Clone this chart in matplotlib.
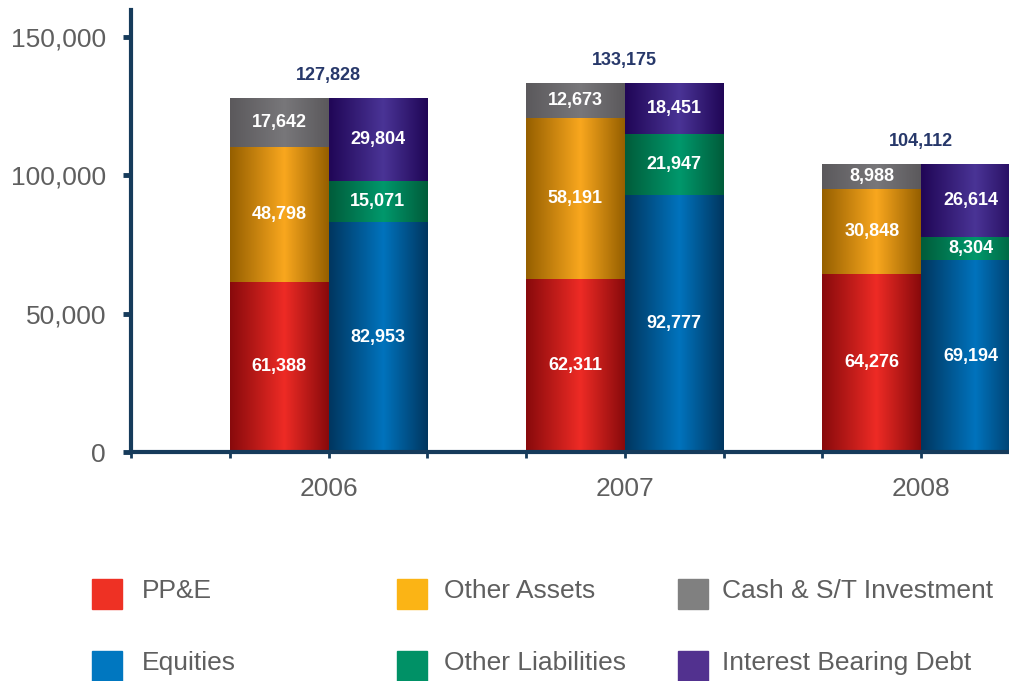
import numpy as np
import matplotlib
matplotlib.use("Agg")
import matplotlib.pyplot as plt
from matplotlib.colors import LinearSegmentedColormap
from matplotlib.patches import Rectangle

plt.rcParams["font.family"] = ["Liberation Sans", "DejaVu Sans"]

# Balance sheet composition (in millions)
years = ["2006", "2007", "2008"]
ppe = [61388, 62311, 64276]
other_assets = [48798, 58191, 30848]
cash = [17642, 12673, 8988]
equities = [82953, 92777, 69194]
other_liab = [15071, 21947, 8304]
debt = [29804, 18451, 26614]

asset_series = [("PP&E", ppe), ("Other Assets", other_assets), ("Cash & S/T Investment", cash)]
liab_series = [("Equities", equities), ("Other Liabilities", other_liab), ("Interest Bearing Debt", debt)]

# edge shade, highlight, legend swatch
shades = {
    "PP&E": ("#880a0c", "#ee2b25", "#ee3124"),
    "Other Assets": ("#955f00", "#f9a71e", "#fbb415"),
    "Cash & S/T Investment": ("#5b595c", "#78777a", "#808080"),
    "Equities": ("#00365f", "#0073bd", "#0077c0"),
    "Other Liabilities": ("#005c3a", "#00986c", "#009166"),
    "Interest Bearing Debt": ("#200656", "#4a3496", "#52318f"),
}

spine_col = "#163b5b"
text_col = "#5f5f5f"
total_col = "#27386a"

fig = plt.figure(figsize=(10.09, 6.81), dpi=100)
ax = fig.add_axes([131 / 1009, 229 / 681, 878 / 1009, 442 / 681])

group_x = np.array([2, 5, 8])
grad = np.linspace(0, 1, 256).reshape(1, -1)


def shaded_stack(xc, series):
    bottom = np.zeros(len(xc))
    for name, vals in series:
        dark, light, _ = shades[name]
        cmap = LinearSegmentedColormap.from_list(name, [(0, dark), (0.55, light), (1, dark)])
        bars = ax.bar(xc, vals, width=1.0, bottom=bottom, color="none", edgecolor="none", zorder=2)
        for rect, v in zip(bars, vals):
            x0, y0 = rect.get_xy()
            w, h = rect.get_width(), rect.get_height()
            im = ax.imshow(grad, extent=[x0, x0 + w, y0, y0 + h], aspect="auto",
                           cmap=cmap, zorder=2, interpolation="bilinear")
            im.set_clip_path(rect)
            ax.text(x0 + w / 2, y0 + h / 2, f"{v:,}", ha="center", va="center",
                    color="white", fontsize=13, fontweight="bold", zorder=4)
        bottom = bottom + np.array(vals)
    return bottom


totals = shaded_stack(group_x - 0.5, asset_series)
shaded_stack(group_x + 0.5, liab_series)

for xc, t in zip(group_x, totals):
    ax.annotate(f"{int(t):,}", (xc, t), xytext=(0, 16), textcoords="offset points",
                ha="center", va="center", color=total_col, fontsize=13, fontweight="bold")

ax.set_xlim(0, 8.89)
ax.set_ylim(0, 159600)

ax.set_yticks([0, 50000, 100000, 150000])
ax.set_yticklabels(["0", "50,000", "100,000", "150,000"])
ax.set_xticks(range(9))
ax.set_xticklabels(["", "", years[0], "", "", years[1], "", "", years[2]])

for side in ["top", "right"]:
    ax.spines[side].set_visible(False)
for side in ["left", "bottom"]:
    ax.spines[side].set_color(spine_col)
    ax.spines[side].set_linewidth(3)
    ax.spines[side].set_zorder(5)

ax.tick_params(axis="y", length=6, width=3.5, color=spine_col, pad=12,
               labelsize=19, labelcolor=text_col)
ax.tick_params(axis="x", length=4, width=2, color=spine_col, pad=14,
               labelsize=19, labelcolor=text_col)

# legend laid out in a 3x2 grid below the axes
legend_names = ["PP&E", "Other Assets", "Cash & S/T Investment",
                "Equities", "Other Liabilities", "Interest Bearing Debt"]
col_box = [92, 397, 678]
col_txt = [142, 444, 722]
row_box = [609, 681]
row_txt = [598, 670]
for i, name in enumerate(legend_names):
    c, r = i % 3, i // 3
    fig.patches.append(Rectangle((col_box[c] / 1009, 1 - row_box[r] / 681), 30 / 1009, 30 / 681,
                                 transform=fig.transFigure, color=shades[name][2]))
    fig.text(col_txt[c] / 1009, 1 - row_txt[r] / 681, name, ha="left", va="baseline",
             fontsize=19, color=text_col)

fig.savefig("out.png", dpi=100)
